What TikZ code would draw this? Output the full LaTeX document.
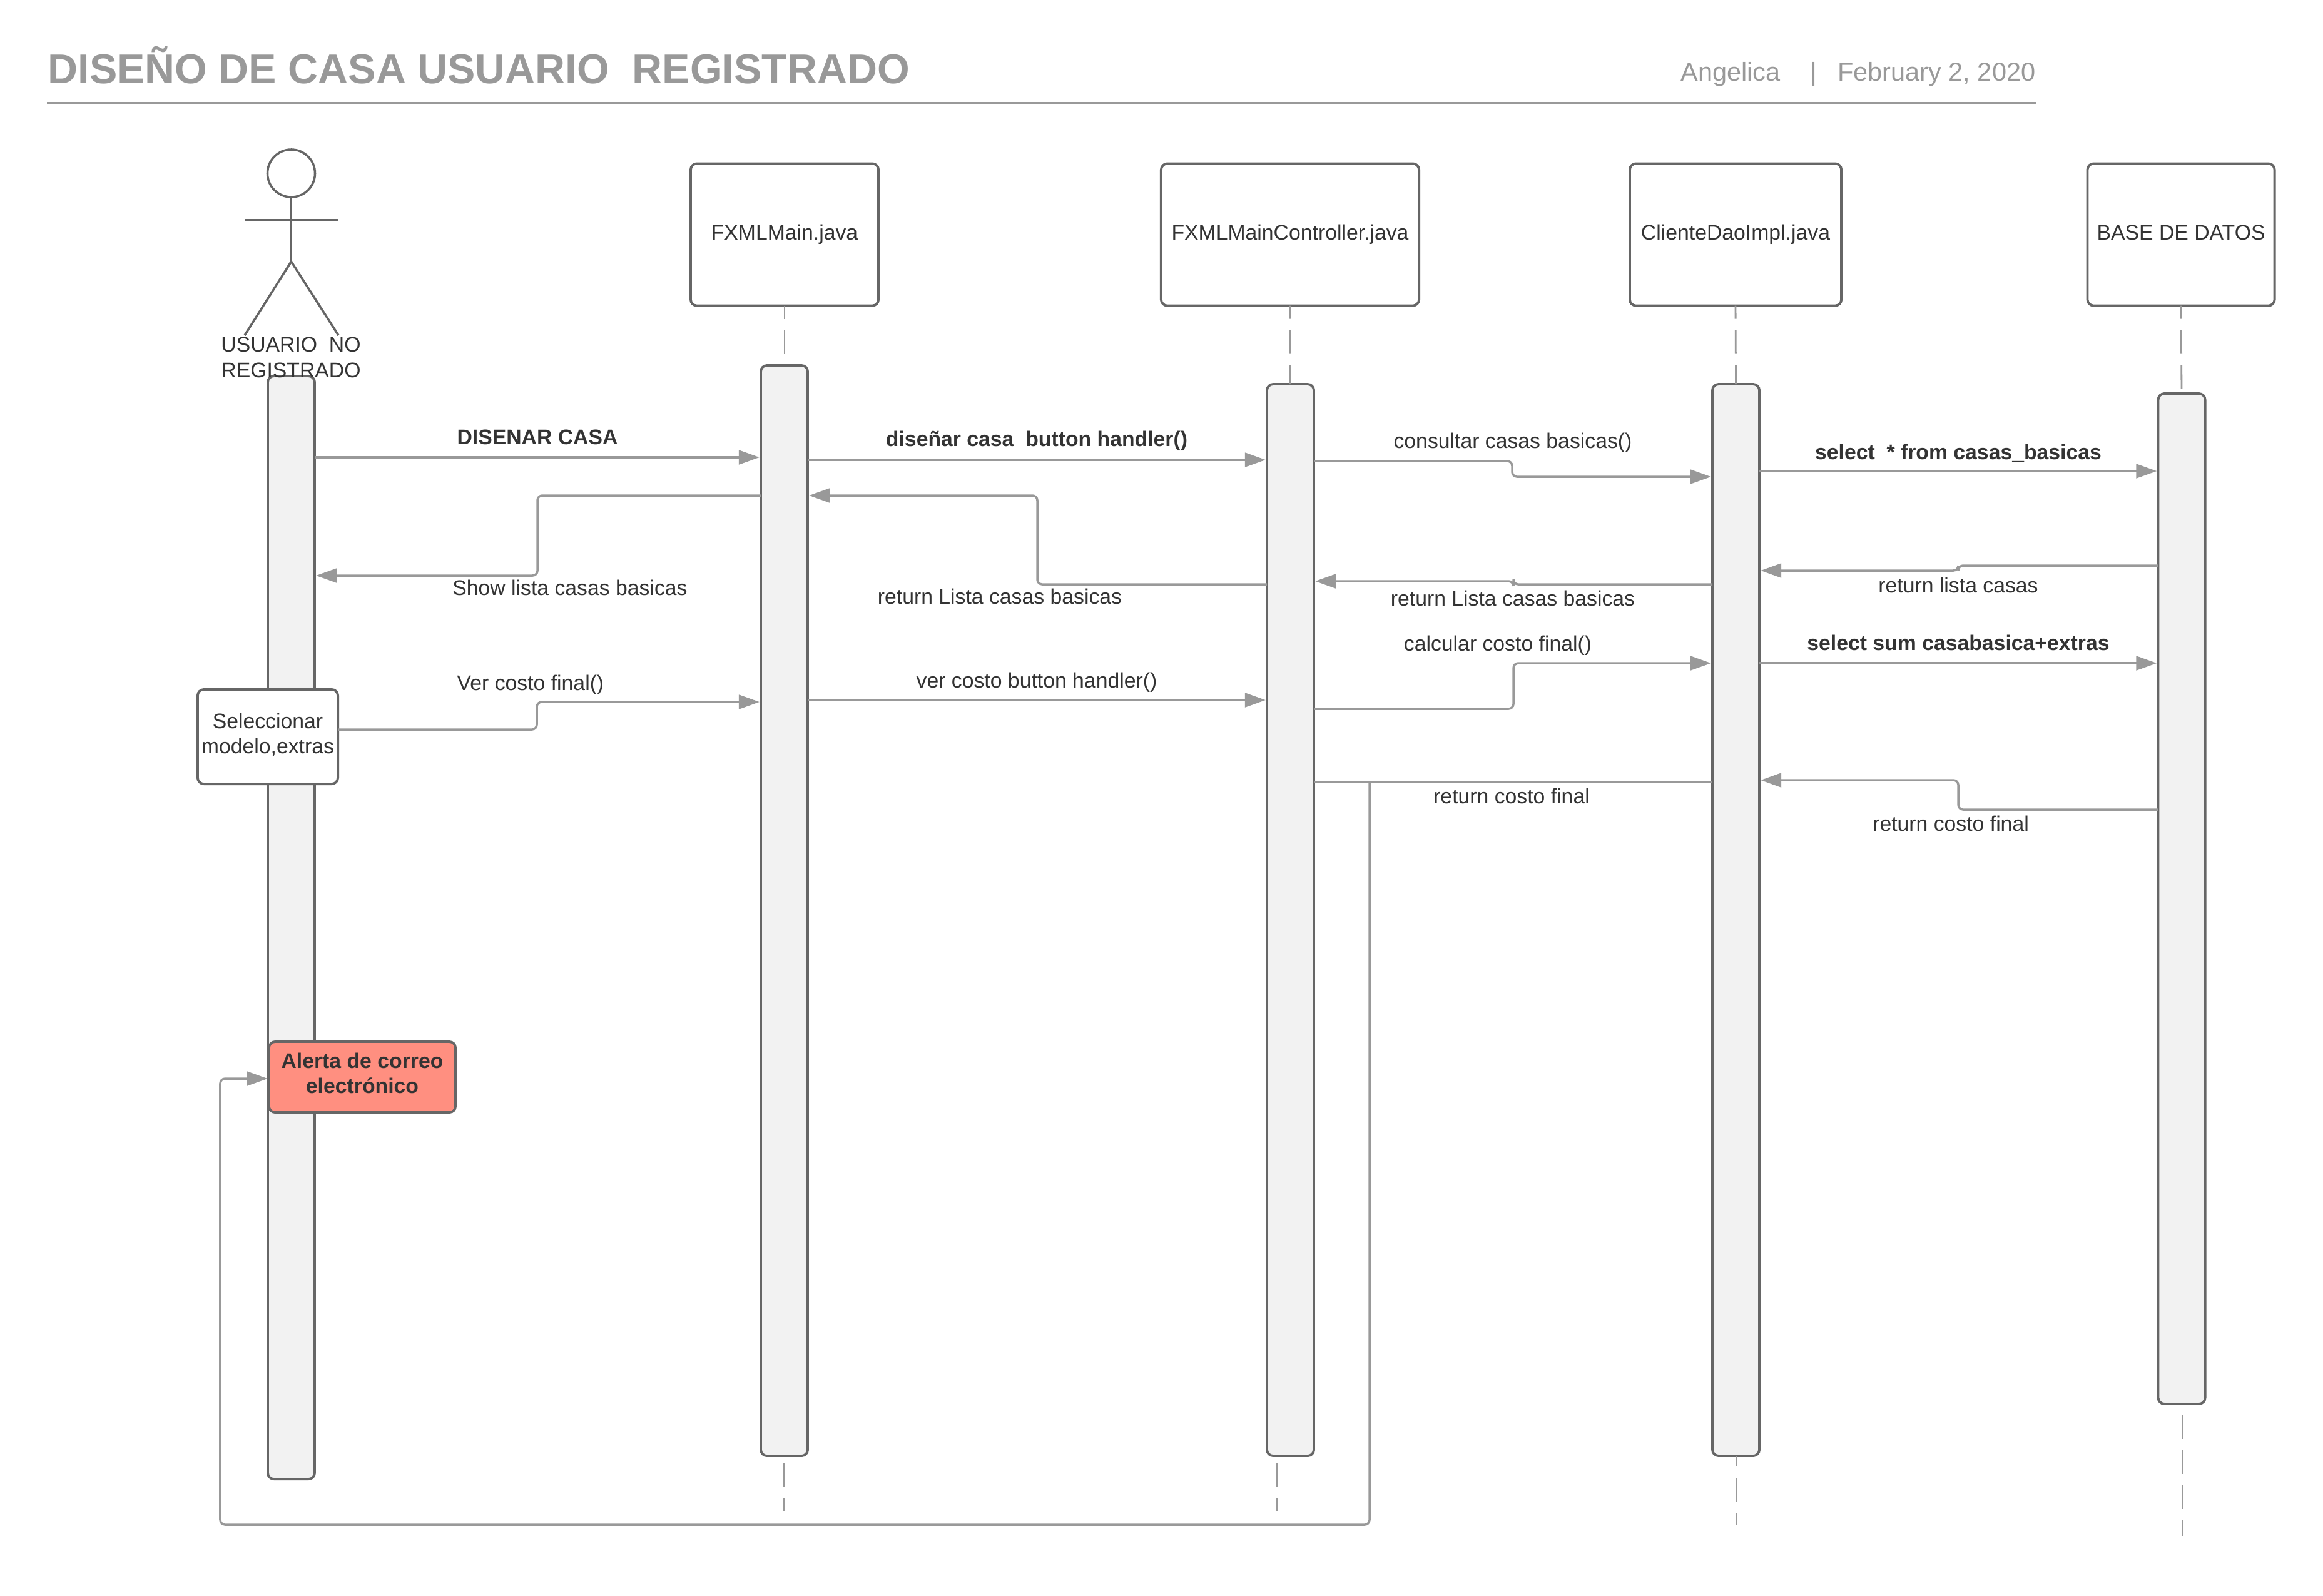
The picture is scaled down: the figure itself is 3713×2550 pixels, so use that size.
\documentclass[tikz,border=0pt]{standalone}
\usepackage{fontspec}
\setmainfont{Liberation Sans}
\usetikzlibrary{arrows.meta}
\definecolor{trazo}{HTML}{666666}
\definecolor{flecha}{HTML}{999999}
\definecolor{texto}{HTML}{333333}
\definecolor{barra}{HTML}{F2F2F2}
\definecolor{alerta}{HTML}{FF8F80}
\tikzset{
  etiqueta/.style={anchor=base, inner sep=0, text=texto, font=\fontsize{9.6}{11.4}\selectfont},
  negrita/.style={etiqueta, font=\fontsize{9.6}{11.4}\selectfont\bfseries},
  objeto/.style={draw=trazo, fill=white, line width=1.1pt, rounded corners=2.8pt, outer sep=0, inner sep=0,
    align=center, text=texto, font=\fontsize{9.6}{11.4}\selectfont},
  lifebar/.style={draw=trazo, fill=barra, line width=1.1pt, rounded corners=2.8pt, outer sep=0, inner sep=0,
    anchor=north, minimum width=.75cm},
  mensaje/.style={draw=flecha, line width=1pt, rounded corners=2.2pt},
  llamada/.style={mensaje, -{Triangle[length=9.4pt,width=6.4pt]}, shorten >=.6pt},
  vida/.style={draw=flecha, line width=.8pt, dash pattern=on 10.8pt off 5.1pt},
}
\begin{document}
\begin{tikzpicture}[x=.01cm, y=-.01cm]
    \useasboundingbox (0,0) rectangle (3713,2550);
    % title
    \node[anchor=base west, inner sep=0, text=flecha, font=\fontsize{18.9}{22}\selectfont\bfseries] (titulo) at (76,133) {DISEÑO DE CASA USUARIO\ \ REGISTRADO};
    \node[anchor=base east, inner sep=0, text=flecha, font=\fontsize{11.8}{14}\selectfont] (autor) at (3254,129) {Angelica\hspace{13.6pt}|\hspace{9.4pt}February 2, 2020};
    \coordinate (reglaa) at (75,165);
    \coordinate (reglab) at (3254,165);
    \draw[flecha, line width=1.1pt] (reglaa) -- (reglab);
    % lifelines
    \node[lifebar, minimum height=17.62cm] (barusuario) at (465.5,601) {};
    \node[lifebar, minimum height=17.42cm] (barmain) at (1253.5,584) {};
    \node[lifebar, minimum height=17.12cm] (barcontrol) at (2062.5,614) {};
    \node[lifebar, minimum height=17.12cm] (barcliente) at (2774.5,614) {};
    \node[lifebar, minimum height=16.14cm] (barbase) at (3487,629) {};
    % objects
    \node[objeto, minimum width=3cm, minimum height=2.27cm] (fxmlmain) at (1254,375) {FXMLMain.java};
    \node[objeto, minimum width=4.12cm, minimum height=2.27cm] (fxmlcontrol) at (2062,375) {FXMLMainController.java};
    \node[objeto, minimum width=3.38cm, minimum height=2.27cm] (clientedao) at (2774,375) {ClienteDaoImpl.java};
    \node[objeto, minimum width=2.99cm, minimum height=2.27cm, text depth=2pt] (basedatos) at (3486,375) {BASE DE DATOS};
    \draw[vida, dash phase=4.8pt] (fxmlmain.south) -- (fxmlmain.south |- 0,568);
    \draw[vida, dash phase=4.8pt] (fxmlcontrol.south) -- (barcontrol.north);
    \draw[vida, dash phase=4.8pt] (clientedao.south) -- (barcliente.north);
    \draw[vida, dash phase=4.8pt] (basedatos.south) -- (barbase.north);
    \coordinate (finmain) at (1253.5,2415);
    \coordinate (fincontrol) at (2041,2415);
    \coordinate (fincliente) at (2776,2438);
    \coordinate (finbase) at (3489,2455);
    \draw[vida, dash phase=12.5pt] (finmain |- barmain.south) -- (finmain);
    \draw[vida, dash phase=12.5pt] (fincontrol |- barcontrol.south) -- (fincontrol);
    \draw[vida, dash phase=6pt] (fincliente |- barcliente.south) -- (fincliente);
    \draw[vida, dash phase=10.8pt] (finbase |- barbase.south) -- (finbase);
    % actor
    \node[circle, draw=trazo, fill=white, line width=1pt, inner sep=0, outer sep=0, minimum size=.76cm] (cabeza) at (465.5,277) {};
    \coordinate (cadera) at (465.5,418);
    \coordinate (manoa) at (391,352);
    \coordinate (manob) at (541,352);
    \coordinate (piea) at (391,536);
    \coordinate (pieb) at (541,536);
    \draw[trazo, line width=1pt] (cabeza.south) -- (cadera);
    \draw[trazo, line width=1pt] (manoa) -- (manob);
    \draw[trazo, line width=1pt] (piea) -- (cadera) -- (pieb);
    \node[etiqueta, align=center] (usuario) at (465,603) {USUARIO\ \ NO\\REGISTRADO};
    % boxes on the user bar
    \node[objeto, minimum width=2.24cm, minimum height=1.51cm, text depth=2.8pt] (seleccionar) at (428,1177.5) {Seleccionar\\modelo,extras};
    \node[objeto, fill=alerta, minimum width=2.98cm, minimum height=1.13cm, text depth=3.4pt, font=\fontsize{9.6}{11.4}\selectfont\bfseries] (alertacorreo) at (579,1721.5) {Alerta de correo\\electrónico};
    % calls
    \draw[llamada] (barusuario.east |- 0,731) -- (barmain.west |- 0,731);
    \node[negrita] (m1) at (859,710) {DISENAR CASA};
    \draw[llamada] (barmain.east |- 0,735) -- (barcontrol.west |- 0,735);
    \node[negrita] (m2) at (1657,713) {diseñar casa\ \ button handler()};
    \draw[llamada] (barcontrol.east |- 0,737) -- (2417,737) -- (2417,762) -- (barcliente.west |- 0,762);
    \node[etiqueta] (m3) at (2418,716) {consultar casas basicas()};
    \draw[llamada] (barcliente.east |- 0,753) -- (barbase.west |- 0,753);
    \node[negrita] (m4) at (3130,734) {select\ \ * from casas\_basicas};
    % returns
    \draw[llamada] (barmain.west |- 0,792) -- (859,792) -- (859,920) -- (barusuario.east |- 0,920);
    \node[etiqueta] (m5) at (911,951) {Show lista casas basicas};
    \draw[llamada] (barcontrol.west |- 0,934) -- (1658,934) -- (1658,792) -- (barmain.east |- 0,792);
    \node[etiqueta] (m6) at (1598,965) {return Lista casas basicas};
    \draw[llamada] (barcliente.west |- 0,934) -- (2419,934) -- (2419,929) -- (barcontrol.east |- 0,929);
    \node[etiqueta] (m7) at (2418,968) {return Lista casas basicas};
    \draw[llamada] (barbase.west |- 0,904) -- (3130,904) -- (3130,912) -- (barcliente.east |- 0,912);
    \node[etiqueta] (m8) at (3130,947) {return lista casas};
    % cost
    \draw[llamada] (seleccionar.east |- 0,1166) -- (858,1166) -- (858,1122) -- (barmain.west |- 0,1122);
    \node[etiqueta] (m9) at (848,1103) {Ver costo final()};
    \draw[llamada] (barmain.east |- 0,1119) -- (barcontrol.west |- 0,1119);
    \node[etiqueta] (m10) at (1657,1099) {ver costo button handler()};
    \draw[llamada] (barcontrol.east |- 0,1133) -- (2419,1133) -- (2419,1060) -- (barcliente.west |- 0,1060);
    \node[etiqueta] (m11) at (2394,1040) {calcular costo final()};
    \draw[llamada] (barcliente.east |- 0,1060) -- (barbase.west |- 0,1060);
    \node[negrita] (m12) at (3130,1039) {select sum casabasica+extras};
    \draw[llamada] (barbase.west |- 0,1294) -- (3130,1294) -- (3130,1247) -- (barcliente.east |- 0,1247);
    \node[etiqueta] (m13) at (3118,1328) {return costo final};
    \draw[mensaje] (barcliente.west |- 0,1250) -- (barcontrol.east |- 0,1250);
    \node[etiqueta] (m14) at (2416,1284) {return costo final};
    \coordinate (ramal) at (2189,1250);
    \draw[llamada] (ramal) -- (ramal |- 0,2437) -- (352,2437) -- (352,1724) -- (alertacorreo.west |- 0,1724);
\end{tikzpicture}
\end{document}
